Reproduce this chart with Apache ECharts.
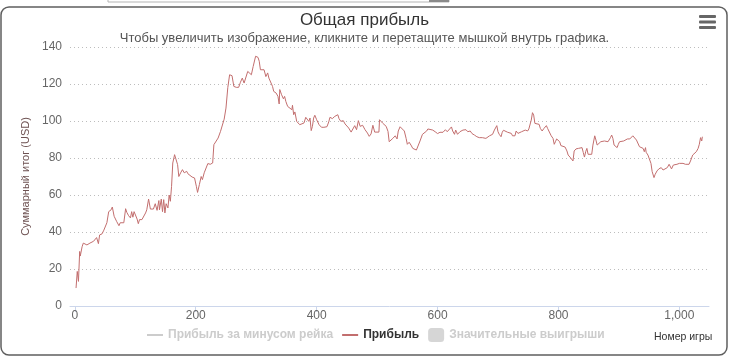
<!DOCTYPE html>
<html><head><meta charset="utf-8">
<script src="https://cdn.jsdelivr.net/npm/echarts@6/dist/echarts.min.js"></script>
<style>html,body{margin:0;padding:0;background:#fff}#c{width:729px;height:358px}</style>
</head><body><div id="c"></div>
<script>
const titleText = 'Общая прибыль';
const subtitleText = 'Чтобы увеличить изображение, кликните и перетащите мышкой внутрь графика.';
const yAxisTitle = 'Суммарный итог (USD)';
const xAxisTitle = 'Номер игры';
const seriesNames = ['Прибыль за минусом рейка', 'Прибыль', 'Значительные выигрыши'];
const xTicks = [0, 200, 400, 600, 800, 1000];
const yTicks = [0, 20, 40, 60, 80, 100, 120, 140];

const games = [2,4,6,8,9,12,14,20,25,28,31,36,39,41,45,48,51,53,56,60,62,65,69,71,73,75,78,81,84,86,89,92,94,96,98,101,103,105,107,111,114,117,119,122,125,128,130,133,136,139,140,143,145,147,149,151,154,156,158,160,162,165,168,170,172,175,178,181,185,187,190,194,198,201,203,206,209,211,214,217,220,224,228,230,233,237,241,244,247,250,253,256,260,263,267,271,274,277,280,282,286,289,292,295,299,303,305,307,310,313,316,319,321,324,327,329,333,336,338,339,342,345,347,349,352,355,359,360,362,364,367,370,372,375,379,382,385,387,389,391,393,395,397,400,404,408,412,417,420,422,426,430,435,437,440,444,447,449,453,457,460,463,466,469,472,476,480,484,487,490,493,496,499,503,504,507,509,512,515,518,520,523,526,528,530,533,535,538,541,545,548,550,553,556,559,561,565,568,571,575,578,582,584,587,592,596,600,604,607,609,613,616,619,623,625,628,630,633,637,642,645,647,650,654,657,661,665,669,674,677,680,683,686,688,691,694,696,698,700,702,705,707,709,712,716,719,722,724,728,730,733,735,739,742,745,749,751,753,755,757,759,761,764,768,770,773,776,780,782,785,788,791,793,795,797,800,802,804,807,811,814,816,819,822,824,826,829,833,836,839,841,843,845,847,849,852,855,857,860,862,864,867,870,872,876,879,882,886,888,890,892,895,897,899,901,904,908,911,914,918,921,923,926,929,932,934,937,940,942,944,945,948,951,953,955,958,960,963,966,970,973,976,980,983,985,987,990,993,996,1000,1003,1006,1010,1013,1016,1019,1022,1025,1028,1031,1033,1035,1037,1038];
const profit = [9.7,18.7,13.3,29.5,27,32,34,33,34,33,35,37,33.7,38.4,39,41,41.3,45,51,52,53.5,48.5,45.8,46.3,43.4,45,44.3,45,52.6,50.6,48.8,47.6,51,48,51,50,47,44.5,46.7,46.7,46.7,50.3,52,57.8,52.4,52,52.4,55.3,51.7,57,52,57.8,51,57.5,50.3,55.3,53,60,56.6,64.7,77.3,81.8,81.3,76.4,70,72,73.7,72,72.8,71.5,72,69.7,69.2,64.7,61.4,65.6,70,68.3,72,72.8,77,76.6,77.3,87.2,88.1,90.8,94.4,95,101,107,118,125,124.5,118.7,118.2,118.2,121,123.2,120.5,121,126.8,127.7,125,129.5,135,134.4,132.3,127.7,128.6,127.7,124,126,123.2,122.3,118.7,116,115.1,113.3,109.2,117,114.2,112,113.3,110.6,107.9,107.4,106.1,108.5,103.4,104.9,99.8,100.7,98,97.1,98.9,102,102.5,99.8,101.6,94.8,97.1,101.6,103.1,100.7,98,96.6,96.6,96.9,99.5,102,101.3,102.5,103.4,101.3,99.8,100.2,98.4,98.4,96.2,94,94.8,97.5,95.3,100.2,97.1,97.7,95.3,93.5,91.7,93,97.7,94,93,94,100.7,100.7,98.9,98.4,97.1,94.4,88.8,87.9,90.6,90.3,92,90.3,94.6,96.9,96.4,94.6,90.6,87.4,88.5,87,85.2,84.3,84.3,85.2,89.2,92.8,92.4,94.6,95.7,95,95.1,94.2,93.2,93.9,94.6,93.9,95.3,94.2,94.6,96.8,94.6,92.8,95.1,92.8,94.2,95.1,94.2,95.3,94.2,94.6,93.2,92.4,91.5,91,91,90.1,90.6,90.3,92,92.4,92.8,95.1,96,97.5,94.2,92.8,91.5,93.9,95,95.3,93.9,94.6,93.3,92,92,94.6,93.3,93.3,94.2,95,95.1,94.6,95.7,96,100.5,104.5,103.2,98.7,98.2,98.2,96,94.6,96,97.5,96,95.1,92,90.6,87.4,88.8,90.3,91,88.8,86.7,86.1,85.9,83.8,81.6,80.5,80.2,78.4,83.8,84.9,85.2,85.6,85.6,83,80.5,83.4,85.2,82,81.6,82,87,92,89.7,87,87.4,88.8,87.9,89.2,88.5,88.8,91,92.4,90.6,87,87.4,85.6,87.4,88.8,89.7,89.2,89.7,90.3,90.3,91,92,91,89.7,88.8,86.1,86.1,85.2,83.4,85.6,83.1,81.6,81.3,77.1,72.6,69.4,71.2,73,74.1,74.8,73.5,74.4,74.8,76.6,75.9,74.1,76.2,75.9,76.6,77.1,77.1,77.1,76.6,76.2,76.6,78.9,81.6,82,83.4,85.2,87.4,91,89.2,91.5];
const profitNoRake = [];
const bigWins = [];

const profitData = games.map((g, i) => [g, profit[i]]);
const FONT = '"Liberation Sans", Arial, sans-serif';
const lineIcon = 'path://M0,0 L0,0 Z M0,6 L16,6 L16,8 L0,8 Z M16,14 L16,14 Z';

const chart = echarts.init(document.getElementById('c'), null, {renderer: 'canvas'});
chart.setOption({
  animation: false,
  textStyle: {fontFamily: FONT},
  title: [
    {text: titleText, left: 'center', top: 12, padding: 0,
     textStyle: {fontSize: 17, fontWeight: 'normal', color: '#333333', fontFamily: FONT}},
    {text: subtitleText, left: 'center', top: 32, padding: 0,
     textStyle: {fontSize: 13, fontWeight: 'normal', color: '#555555', fontFamily: FONT}}
  ],
  grid: {left: 70, right: 20, top: 47, bottom: 52, containLabel: false},
  legend: {
    left: 147, top: 328, padding: 0, itemWidth: 16, itemHeight: 14, itemGap: 9,
    inactiveColor: '#cccccc',
    textStyle: {fontSize: 12, fontWeight: 'bold', color: '#333333', fontFamily: FONT},
    selected: {[seriesNames[0]]: false, [seriesNames[2]]: false},
    data: [
      {name: seriesNames[0], icon: lineIcon},
      {name: seriesNames[1], icon: lineIcon},
      {name: seriesNames[2], icon: 'roundRect'}
    ]
  },
  xAxis: {
    type: 'value', min: -8, max: 1049,
    axisLine: {show: true, lineStyle: {color: '#ccd6eb', width: 1}},
    axisTick: {show: true, customValues: xTicks, length: 6, lineStyle: {color: '#ccd6eb'}},
    axisLabel: {customValues: xTicks, color: '#666666', fontSize: 12, margin: 4,
      formatter: v => v >= 1000 ? String(v).replace(/\B(?=(\d{3})+(?!\d))/g, ',') : String(v)},
    splitLine: {show: false}
  },
  yAxis: {
    type: 'value', min: 0, max: 140, interval: 20,
    name: yAxisTitle, nameLocation: 'middle', nameRotate: 90, nameGap: 37,
    nameTextStyle: {color: '#6e5252', fontSize: 11, fontFamily: FONT},
    axisLine: {show: false}, axisTick: {show: false},
    axisLabel: {color: '#666666', fontSize: 12, margin: 8},
    splitLine: {show: true, lineStyle: {color: '#bdbdbd', type: [1, 3], width: 1}}
  },
  series: [
    {name: seriesNames[0], type: 'line', data: profitNoRake, symbol: 'none', color: '#b0b0b0'},
    {name: seriesNames[1], type: 'line', data: profitData, symbol: 'none', showSymbol: false,
     color: '#c26e6e', lineStyle: {width: 1, color: '#c26e6e'}, z: 3},
    {name: seriesNames[2], type: 'scatter', data: bigWins, color: '#b0b0b0'}
  ],
  graphic: [
    {type: 'rect', shape: {x: 1, y: 7, width: 726, height: 348, r: 8}, silent: true,
     style: {fill: 'none', stroke: '#5f5f5f', lineWidth: 1.5}, z: 100},
    {type: 'rect', shape: {x: 108, y: -4, width: 341, height: 6}, silent: true,
     style: {fill: '#ffffff', stroke: '#b5b5b5', lineWidth: 1}, z: 100},
    {type: 'rect', shape: {x: 429, y: -4, width: 20, height: 6}, silent: true,
     style: {fill: '#8a8a8a'}, z: 101},
    {type: 'rect', shape: {x: 699, y: 15, width: 17, height: 3, r: 1}, style: {fill: '#666666'}, z: 100},
    {type: 'rect', shape: {x: 699, y: 20.5, width: 17, height: 3, r: 1}, style: {fill: '#666666'}, z: 100},
    {type: 'rect', shape: {x: 699, y: 26, width: 17, height: 3, r: 1}, style: {fill: '#666666'}, z: 100},
    {type: 'text', left: 654, top: 332, style: {text: xAxisTitle, fill: '#333333', fontSize: 10.5, fontFamily: FONT}, z: 100}
  ]
});
</script></body></html>
